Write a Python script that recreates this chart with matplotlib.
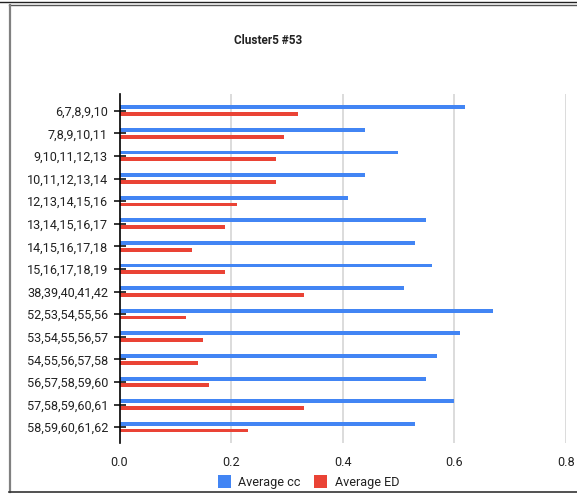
import matplotlib
matplotlib.use("Agg")
import matplotlib.pyplot as plt
from matplotlib.lines import Line2D
import numpy as np

categories = ["6,7,8,9,10", "7,8,9,10,11", "9,10,11,12,13", "10,11,12,13,14",
              "12,13,14,15,16", "13,14,15,16,17", "14,15,16,17,18", "15,16,17,18,19",
              "38,39,40,41,42", "52,53,54,55,56", "53,54,55,56,57", "54,55,56,57,58",
              "56,57,58,59,60", "57,58,59,60,61", "58,59,60,61,62"]
avg_cc = [0.62, 0.44, 0.50, 0.44, 0.41, 0.55, 0.53, 0.56, 0.51, 0.67, 0.61, 0.57, 0.55, 0.60, 0.53]
avg_ed = [0.32, 0.295, 0.28, 0.28, 0.21, 0.19, 0.13, 0.19, 0.33, 0.12, 0.15, 0.14, 0.16, 0.33, 0.23]
series_names = ["Average cc", "Average ED"]
xticks = [0.0, 0.2, 0.4, 0.6, 0.8]
title = "Cluster5 #53"

W, H = 577, 494
plt.rcParams['font.family'] = ['Roboto', 'DejaVu Sans']
fig = plt.figure(figsize=(W / 100, H / 100), dpi=100)

def fx(px):
    return px / W

def fy(py):
    return 1 - py / H

left, right, top, bottom = 119.5, 565.7, 94, 443
ax = fig.add_axes([fx(left), fy(bottom), fx(right) - fx(left), fy(top) - fy(bottom)])

blue = "#4285F4"
red = "#EA4335"
y = np.arange(len(categories))
bh = 0.17
off = 0.15
ax.barh(y - off, avg_cc, height=bh, color=blue, label=series_names[0], zorder=3)
ax.barh(y + off, avg_ed, height=bh, color=red, label=series_names[1], zorder=3)

ax.set_xlim(0, 0.8)
ax.set_ylim(14.7, -0.74)
ax.set_yticks(y)
ax.set_yticklabels(categories, fontsize=9.1, color="#222222")
ax.set_xticks(xticks)
ax.set_xticklabels([f"{t:.1f}" for t in xticks], fontsize=9.1, color="#222222")
ax.tick_params(axis='y', direction='inout', length=8.6, width=1.1, color="#000000", pad=4)
ax.tick_params(axis='x', length=0, pad=9)
for s in ["top", "right", "bottom"]:
    ax.spines[s].set_visible(False)
ax.spines["left"].set_linewidth(1.2)
ax.spines["left"].set_color("#000000")
ax.spines["left"].set_zorder(4)
for t in xticks[1:]:
    ax.axvline(t, color="#d6d6d6", lw=1.2, zorder=1)

fig.text(fx(268), fy(40), title, ha="center", va="center", fontsize=8.5, fontweight="bold", color="#222222")

ax.legend(loc="center", bbox_to_anchor=(fx(308.5), fy(482)), bbox_transform=fig.transFigure,
          ncol=2, frameon=False, fontsize=9.1, handlelength=1.0, handleheight=1.25,
          handletextpad=0.6, columnspacing=1.1, borderpad=0, labelcolor="#222222")

# document frame lines
fig.add_artist(Line2D([0, 1], [fy(2.5), fy(2.5)], transform=fig.transFigure, color="#222222", lw=1.0))
fig.add_artist(Line2D([fx(9), 1], [fy(5.5), fy(5.5)], transform=fig.transFigure, color="#555555", lw=1.0))
fig.add_artist(Line2D([fx(10), fx(10)], [fy(5), fy(491.5)], transform=fig.transFigure, color="#808080", lw=1.6))
fig.add_artist(Line2D([fx(9), 1], [fy(491.5), fy(491.5)], transform=fig.transFigure, color="#333333", lw=1.2))

fig.savefig("out.png", dpi=100)
